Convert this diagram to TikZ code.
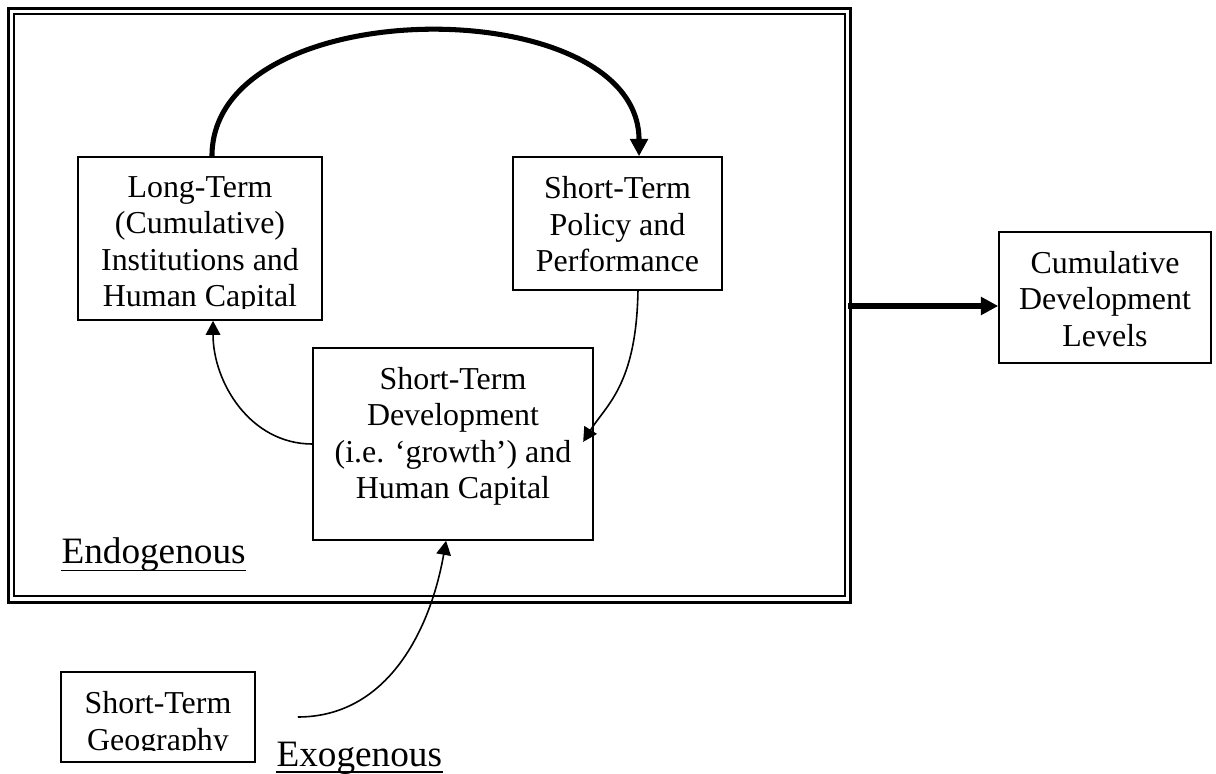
\documentclass[tikz,border=0pt]{standalone}
\usepackage{fontspec}
\setmainfont{Liberation Serif}
\usetikzlibrary{arrows.meta}

\begin{document}
\begin{tikzpicture}[x=0.376pt, y=0.376pt,
    box/.style = {draw, line width=.6pt, inner sep=0pt},
    boxtext/.style = {align=center, inner sep=0pt, anchor=north, font=\fontsize{12}{13.7}\selectfont},
    tag/.style = {inner sep=0pt, anchor=base west, font=\fontsize{14}{16}\selectfont},
    thinarrow/.style = {-{Triangle[length=5.3pt, width=5.5pt]}, line width=.6pt},
    thickarrow/.style = {-{Triangle[length=6.5pt, width=6.5pt]}, line width=1.9pt}]
  \useasboundingbox (0,0) rectangle (1216,773);

  % double frame round the endogenous part
  \draw [line width=1.2pt] (8.7,170.8) rectangle (850.8,764.3);
  \draw [line width=.9pt] (14,177) rectangle (845,759);
  \coordinate (frameeast) at (848,467);

  % boxes
  \node [box, minimum width=91.7pt, minimum height=61.3pt] (longterm) at (200,534.5) {};
  \node [box, minimum width=78.6pt, minimum height=50pt] (policy) at (617.5,549.5) {};
  \node [box, minimum width=105.3pt, minimum height=72.2pt] (dev) at (453,329) {};
  \node [box, minimum width=79.7pt, minimum height=49.3pt] (cumul) at (1105,475.5) {};
  \node [box, minimum width=72.9pt, minimum height=33.8pt] (geog) at (158,56) {};

  % box texts, cut off at the inner margin where they run over
  \begin{scope}
    \clip (longterm.north west) rectangle ([yshift=4.5pt]longterm.south east);
    \node [boxtext] (longtermtext) at ([yshift=-7.4pt]longterm.north) {Long-Term\\(Cumulative)\\Institutions and\\Human Capital};
  \end{scope}
  \node [boxtext] (policytext) at ([yshift=-7.4pt]policy.north) {Short-Term\\Policy and\\Performance};
  \node [boxtext] (devtext) at ([yshift=-7.4pt]dev.north) {Short-Term\\Development\\(i.e. `growth') and\\Human Capital};
  \node [boxtext] (cumultext) at ([yshift=-7.4pt]cumul.north) {Cumulative\\Development\\Levels};
  \begin{scope}
    \clip (geog.north west) rectangle ([yshift=4.5pt]geog.south east);
    \node [boxtext] (geogtext) at ([yshift=-7.4pt]geog.north) {Short-Term\\Geography};
  \end{scope}

  % underlined tags
  \node [tag] (endo) at (61,209) {Endogenous};
  \draw [line width=.4pt] ([yshift=-2.5pt]endo.base west) -- ([yshift=-2.5pt]endo.base east);
  \node [tag] (exo) at (276,6.3) {Exogenous};
  \draw [line width=.4pt] ([yshift=-2pt]exo.base west) -- ([yshift=-2pt]exo.base east);

  % arrows
  \draw [thickarrow] ([xshift=4.5pt]longterm.north) to[out=90, in=90] ([xshift=8.1pt]policy.north);
  \draw [thinarrow] ([xshift=7.7pt]policy.south) to[out=-91, in=58, out looseness=1.5, in looseness=.7] ([shift={(-4pt,.8pt)}]dev.east);
  \draw [thinarrow] (dev.west) to[out=180, in=-90] ([xshift=4.9pt]longterm.south);
  \draw [thinarrow] ([xshift=15.8pt]geog.east) to[out=0, in=-100] ([xshift=-2.6pt]dev.south);
  \draw [thickarrow] (frameeast) -- (frameeast -| cumul.west);
\end{tikzpicture}
\end{document}
